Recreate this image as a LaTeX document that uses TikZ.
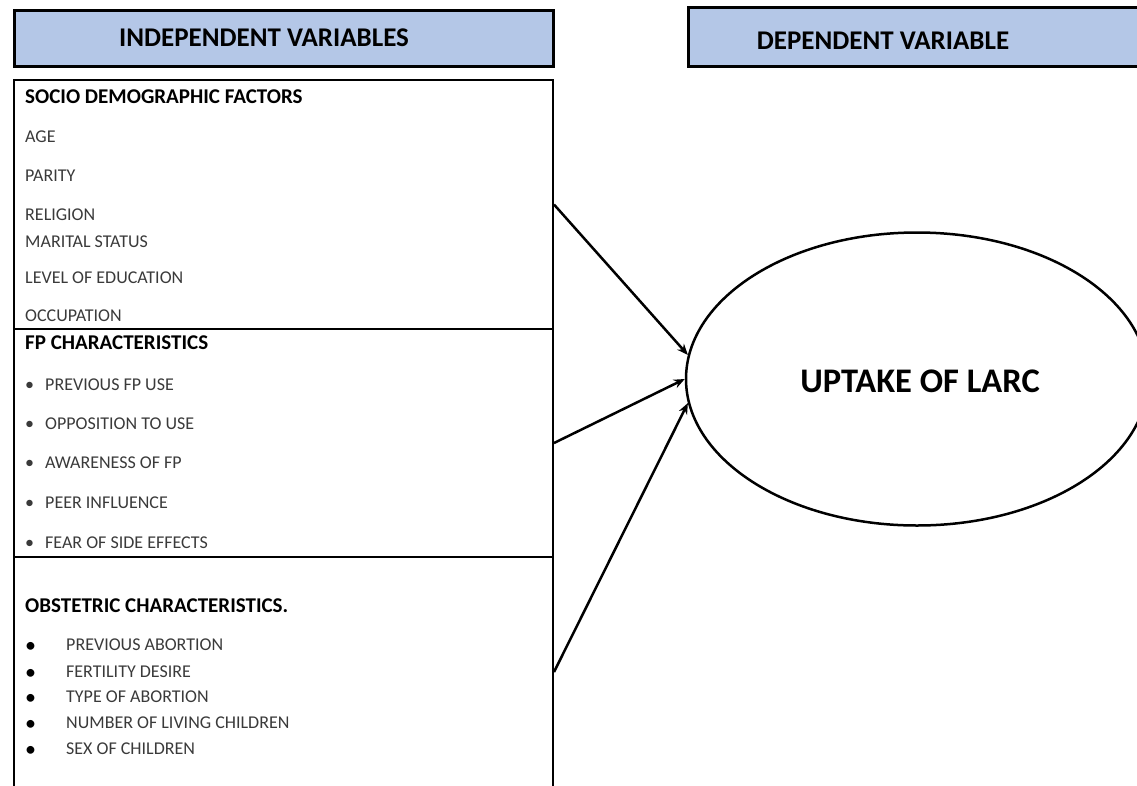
\documentclass[tikz,border=0pt]{standalone}
\usepackage{fontspec}
\setmainfont{Carlito}
\usetikzlibrary{shapes.geometric,arrows.meta}
\definecolor{headblue}{HTML}{B4C7E7}
\definecolor{itemgray}{HTML}{3A3A3A}
\newcommand{\smallbul}{\makebox[20pt][l]{\textbullet}}
\newcommand{\bigbul}{\makebox[41pt][l]{\smash{\raisebox{-1.5pt}{\fontsize{22}{22}\selectfont\color{black}\textbullet}}}}

\begin{document}
\begin{tikzpicture}[x=1pt,y=-1pt,
	headbox/.style={draw,line width=2.5pt,fill=headblue,inner sep=0pt,anchor=north west},
	factorbox/.style={draw,line width=2pt,inner sep=0pt,anchor=north west,minimum width=539pt},
	headtext/.style={font=\bfseries\fontsize{27}{30}\selectfont,inner sep=0pt},
	titletext/.style={font=\bfseries\fontsize{21}{24}\selectfont,anchor=west,inner sep=0pt},
	itemtext/.style={font=\fontsize{18}{21}\selectfont,text=itemgray,anchor=west,inner sep=0pt},
	causal/.style={line width=2.5pt,-{Stealth[length=11pt,width=9pt]}}]
		\useasboundingbox (0,0) rectangle (1137,785);
		% headers
		\node[headbox,minimum width=539pt,minimum height=56pt] (indephead) at (13,9) {};
		\node[headtext] (indeptext) at (264,38) {INDEPENDENT VARIABLES};
		\node[headbox,minimum width=470pt,minimum height=59pt] (dephead) at (687,6) {};
		\node[headtext] (deptext) at (883,41) {DEPENDENT VARIABLE};
		%
		\node[factorbox,minimum height=249pt] (socio) at (13,79) {};
		\node[factorbox,minimum height=228pt] (fp) at (13,328) {};
		\node[factorbox,minimum height=230pt] (obst) at (13,556) {};
		%
		\node[titletext] (sociotitle) at (25,97) {SOCIO DEMOGRAPHIC FACTORS};
		\node[itemtext] (age) at (25,137) {AGE};
		\node[itemtext] (parity) at (25,176) {PARITY};
		\node[itemtext] (religion) at (25,215) {RELIGION};
		\node[itemtext] (marital) at (25,242) {MARITAL STATUS};
		\node[itemtext] (educ) at (25,278) {LEVEL OF EDUCATION};
		\node[itemtext] (occup) at (25,316) {OCCUPATION};
		%
		\node[titletext] (fptitle) at (25,343) {FP CHARACTERISTICS};
		\node[itemtext] (prevfp) at (25,385) {\smallbul PREVIOUS FP USE};
		\node[itemtext] (oppos) at (25,424) {\smallbul OPPOSITION TO USE};
		\node[itemtext] (aware) at (25,463) {\smallbul AWARENESS OF FP};
		\node[itemtext] (peer) at (25,503) {\smallbul PEER INFLUENCE};
		\node[itemtext] (fear) at (25,543) {\smallbul FEAR OF SIDE EFFECTS};
		%
		\node[titletext] (obsttitle) at (25,606) {OBSTETRIC CHARACTERISTICS.};
		\node[itemtext] (prevab) at (25,645) {\bigbul PREVIOUS ABORTION};
		\node[itemtext] (desire) at (25,672) {\bigbul FERTILITY DESIRE};
		\node[itemtext] (abtype) at (25,697) {\bigbul TYPE OF ABORTION};
		\node[itemtext] (living) at (25,723) {\bigbul NUMBER OF LIVING CHILDREN};
		\node[itemtext] (sexch) at (25,749) {\bigbul SEX OF CHILDREN};
		%
		\node[ellipse,draw,line width=2.5pt,minimum width=462pt,minimum height=293pt,inner sep=0pt] (larc) at (917,379) {};
		\node[font=\bfseries\fontsize{34.5}{38}\selectfont,inner sep=0pt] (larctext) at (920,381) {UPTAKE OF LARC};
		%
		\draw[causal] (socio.east) -- (larc.174.5);
		\draw[causal] (fp.east) -- (larc.180);
		\draw[causal] (obst.east) -- (larc.186);
	  \end{tikzpicture}
\end{document}
